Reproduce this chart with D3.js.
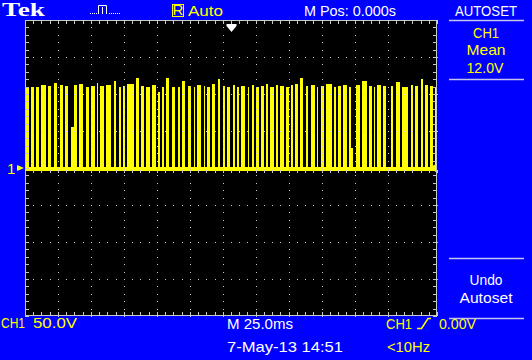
<!DOCTYPE html>
<html>
<head>
<meta charset="utf-8">
<script src="https://cdn.jsdelivr.net/npm/d3@7"></script>
<style>
  body { margin: 0; background: #0000ff; }
  svg { display: block; }
  text { font-family: "Liberation Sans", Arial, sans-serif; font-size: 15px; }
</style>
</head>
<body>
<svg id="scope" width="532" height="360"></svg>
<script>
// scope settings
const msPerDiv = 25;
const voltsPerDiv = 50;
const divsX = 10;
const divsY = 8;

// times (ms) of the dark dips in the trace
const gapTimes = [
  2.2, 5.5, 8.3, 12.7, 16.0, 19.6, 22.9, 26.3, 28.1, 31.7, 35.4, 39.0, 42.3, 44.3, 47.9, 52.4,
  55.4, 58.4, 60.5, 66.1, 69.2, 72.2, 75.8, 79.3, 81.8, 84.2, 87.6, 91.2, 94.2, 97.3, 100.9, 103.3,
  107.0, 109.0, 112.4, 115.5, 118.5, 121.5, 124.6, 127.2, 130.0, 133.7, 136.1, 138.8, 141.8, 144.8,
  147.5, 150.9, 153.5, 157.0, 160.0, 162.4, 165.7, 168.9, 171.9, 176.0, 178.0, 181.4, 186.1, 188.7,
  191.6, 195.2, 197.6, 199.2, 203.3, 207.3, 210.4, 212.4, 215.8, 219.1, 220.5, 223.5, 227.5, 232.6,
  235.6, 238.7, 241.3, 244.7, 247.4
];

// level (V) of the trace between dips
const segmentLevels = [
  108, 109, 110, 112, 111, 115, 112, 111, 110, 112, 113, 110, 111, 115, 111, 112,
  118, 110, 111, 114, 121, 111, 110, 112, 103, 109, 122, 110, 109, 117, 111, 110,
  112, 111, 110, 113, 120, 111, 110, 112, 110, 111, 109, 112, 110, 111, 113, 110,
  112, 111, 110, 112, 113, 121, 111, 112, 110, 111, 113, 110, 111, 112, 110, 111,
  112, 117, 111, 110, 112, 111, 120, 111, 116, 110, 112, 111, 120, 112, 111, 110
];

// most dips go down to ground, these ones stop higher
const dipFloor = 1;
const shallowDipTimes = [28.1, 197.6];
const shallowDipFloors = [55, 27];
const dipWidth = 1.35;

const topLabels = ['Tek', 'Auto', 'M Pos: 0.000s', 'AUTOSET'];
const menuLabels = ['CH1', 'Mean', '12.0V', 'Undo', 'Autoset'];
const bottomLabels = ['CH1', '50.0V', 'M 25.0ms', 'CH1', '0.00V', '7-May-13 14:51', '<10Hz'];

const YELLOW = '#ffff00';
const WHITE = '#ffffff';
const GRID = '#c8c8c8';

const svg = d3.select('#scope');

const screen = { left: 25, top: 20, width: 412, height: 296 };

const x = d3.scaleLinear()
  .domain([0, msPerDiv * divsX])
  .range([screen.left, screen.left + screen.width]);

const y = d3.scaleLinear()
  .domain([-voltsPerDiv * divsY / 2, voltsPerDiv * divsY / 2])
  .range([screen.top + screen.height, screen.top]);

svg.append('rect')
  .attr('width', 532).attr('height', 360)
  .attr('fill', '#0000ff');

svg.append('rect')
  .attr('x', screen.left).attr('y', screen.top)
  .attr('width', screen.width).attr('height', screen.height)
  .attr('fill', '#000');

// trace
const points = [];
let t0 = 0;
segmentLevels.forEach((level, i) => {
  const tEnd = i < gapTimes.length ? gapTimes[i] : msPerDiv * divsX;
  points.push({ t: t0, v: level }, { t: tEnd, v: level });
  if (i < gapTimes.length) {
    const k = shallowDipTimes.indexOf(gapTimes[i]);
    const floor = k >= 0 ? shallowDipFloors[k] : dipFloor;
    points.push({ t: tEnd, v: floor }, { t: tEnd + dipWidth, v: floor });
    t0 = tEnd + dipWidth;
  }
});

const area = d3.area()
  .x(d => x(d.t))
  .y0(y(-4))
  .y1(d => y(d.v));

svg.append('path')
  .datum(points)
  .attr('d', area)
  .attr('fill', YELLOW)
  .attr('shape-rendering', 'crispEdges');

// graticule
const minorX = x.ticks(divsX * 5);
const minorY = y.ticks(divsY * 5);
const majorX = x.ticks(divsX).slice(1, -1);
const majorY = y.ticks(divsY).slice(1, -1);
const grid = svg.append('g').attr('fill', GRID).attr('shape-rendering', 'crispEdges');

grid.append('rect')
  .attr('x', screen.left + 0.5).attr('y', screen.top + 0.5)
  .attr('width', screen.width - 1).attr('height', screen.height - 1)
  .attr('fill', 'none').attr('stroke', GRID);

// edge ticks
minorX.forEach(t => {
  grid.append('rect').attr('x', Math.round(x(t))).attr('y', screen.top).attr('width', 1).attr('height', 4);
  grid.append('rect').attr('x', Math.round(x(t))).attr('y', screen.top + screen.height - 4).attr('width', 1).attr('height', 4);
});
minorY.forEach(v => {
  grid.append('rect').attr('x', screen.left).attr('y', Math.round(y(v))).attr('width', 4).attr('height', 1);
  grid.append('rect').attr('x', screen.left + screen.width - 4).attr('y', Math.round(y(v))).attr('width', 4).attr('height', 1);
});

// dotted division lines
majorX.forEach(t => {
  minorY.forEach(v => {
    if (t === msPerDiv * divsX / 2) {
      grid.append('rect').attr('x', Math.round(x(t)) - 2).attr('y', Math.round(y(v))).attr('width', 5).attr('height', 1);
    } else {
      grid.append('rect').attr('x', Math.round(x(t))).attr('y', Math.round(y(v))).attr('width', 1).attr('height', 1);
    }
  });
});
majorY.forEach(v => {
  minorX.forEach(t => {
    if (v === 0) {
      grid.append('rect').attr('x', Math.round(x(t))).attr('y', Math.round(y(v)) + 2).attr('width', 1).attr('height', 3);
    } else {
      grid.append('rect').attr('x', Math.round(x(t))).attr('y', Math.round(y(v))).attr('width', 1).attr('height', 1);
    }
  });
});

// trigger position (top), trigger level (right), ground marker (left)
const tx = Math.round(x(msPerDiv * divsX / 2)) + 0.5;
svg.append('path')
  .attr('d', `M${tx - 5},${screen.top + 4}H${tx + 5}V${screen.top + 6}L${tx},${screen.top + 12}L${tx - 5},${screen.top + 6}Z`)
  .attr('fill', WHITE);

const gy = y(0);
svg.append('path')
  .attr('d', `M${screen.left + screen.width - 8},${gy}L${screen.left + screen.width - 1},${gy - 4}V${gy + 4}Z`)
  .attr('fill', YELLOW);

svg.append('path')
  .attr('d', `M${screen.left - 8},${gy - 3}L${screen.left - 1},${gy}L${screen.left - 8},${gy + 3}Z`)
  .attr('fill', YELLOW);
svg.append('text')
  .attr('x', 7).attr('y', gy + 5.5)
  .attr('fill', YELLOW).attr('font-size', '14px')
  .text('1');

function label(str, px, py, color, len, anchor) {
  return svg.append('text')
    .attr('x', px).attr('y', py)
    .attr('fill', color)
    .attr('text-anchor', anchor || 'start')
    .attr('textLength', len)
    .attr('lengthAdjust', 'spacingAndGlyphs')
    .text(str);
}

// top bar
label(topLabels[0], 2, 16, WHITE, 43)
  .style('font-family', '"Liberation Serif", "Times New Roman", serif')
  .style('font-weight', 'bold')
  .style('font-size', '19px');

// acquisition icon
const icon = svg.append('g').attr('fill', WHITE);
[90, 92, 94, 96].forEach(px => icon.append('rect').attr('x', px).attr('y', 13).attr('width', 1).attr('height', 1));
[109, 111, 113, 115, 117, 119].forEach(px => icon.append('rect').attr('x', px).attr('y', 13).attr('width', 1).attr('height', 1));
svg.append('path')
  .attr('d', 'M98.5,14V5.5H106.5V14M102.5,7V14')
  .attr('fill', 'none').attr('stroke', WHITE);

svg.append('rect')
  .attr('x', 172.5).attr('y', 4.5).attr('width', 11).attr('height', 12)
  .attr('fill', 'none').attr('stroke', YELLOW);
svg.append('text')
  .attr('x', 178).attr('y', 14.5)
  .attr('text-anchor', 'middle')
  .attr('fill', YELLOW).attr('font-size', '10px')
  .text('R');
label(topLabels[1], 188, 16, YELLOW, 35);
label(topLabels[2], 304, 16, WHITE, 92);
label(topLabels[3], 486, 16, WHITE, 62, 'middle');

// side menu
const sep = svg.append('g').attr('stroke', '#c4c4ee').attr('stroke-width', 1.5);
[20.5, 79.5, 258.5, 318.5].forEach(py => {
  sep.append('line').attr('x1', 449).attr('x2', 524).attr('y1', py).attr('y2', py);
});
label(menuLabels[0], 486, 38, YELLOW, 26, 'middle');
label(menuLabels[1], 486, 55, YELLOW, 39, 'middle');
label(menuLabels[2], 485, 73, YELLOW, 37, 'middle');
label(menuLabels[3], 486, 285, WHITE, 33, 'middle');
label(menuLabels[4], 486, 303, WHITE, 53, 'middle');

// bottom status
label(bottomLabels[0], 1, 328, YELLOW, 24);
label(bottomLabels[1], 33, 328, YELLOW, 44);
label(bottomLabels[2], 227, 329, WHITE, 66);
label(bottomLabels[3], 386, 329, YELLOW, 26);
svg.append('path')
  .attr('d', 'M417,328.5H421.5L428,318.5H431')
  .attr('fill', 'none').attr('stroke', YELLOW).attr('stroke-width', 1.5);
label(bottomLabels[4], 439, 329, YELLOW, 37);
label(bottomLabels[5], 227, 352, WHITE, 116);
label(bottomLabels[6], 387, 352, YELLOW, 43);
</script>
</body>
</html>
